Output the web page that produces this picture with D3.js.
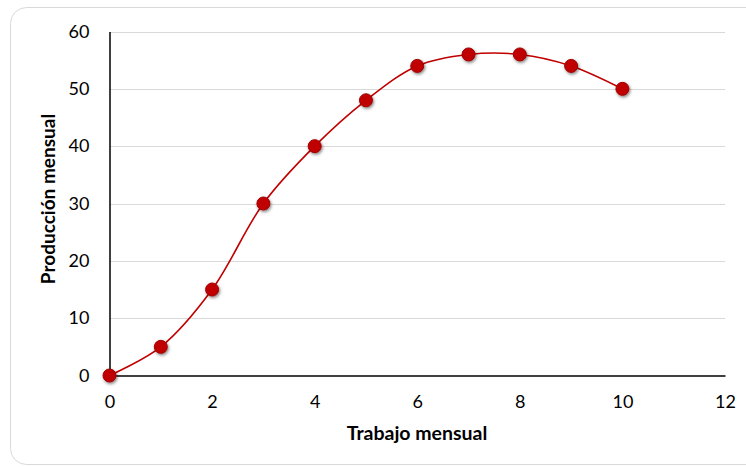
<!DOCTYPE html>
<html>
<head>
<meta charset="utf-8">
<script src="https://cdn.jsdelivr.net/npm/d3@7"></script>
<style>
  html, body { margin: 0; padding: 0; background: #fff; }
  svg { display: block; }
  text { font-family: Lato, "Open Sans", "Liberation Sans", sans-serif; fill: #000; }
</style>
</head>
<body>
<script>
// Labour input vs. monthly output
const trabajo = [0, 1, 2, 3, 4, 5, 6, 7, 8, 9, 10];
const produccion = [0, 5, 15, 30, 40, 48, 54, 56, 56, 54, 50];
const xTicks = [0, 2, 4, 6, 8, 10, 12];
const yTicks = [0, 10, 20, 30, 40, 50, 60];
const xTitle = "Trabajo mensual";
const yTitle = "Producción mensual";

(function () {
  const W = 746, H = 467;
  const svg = d3.select("body").append("svg").attr("width", W).attr("height", H);

  const defs = svg.append("defs");
  const f = defs.append("filter").attr("id", "shadow")
    .attr("x", "-60%").attr("y", "-60%").attr("width", "220%").attr("height", "220%");
  f.append("feDropShadow").attr("dx", 1).attr("dy", 1.5).attr("stdDeviation", 1.6)
    .attr("flood-color", "#000").attr("flood-opacity", 0.5);

  // card outline
  svg.append("rect").attr("x", 10.5).attr("y", 7.5).attr("width", 760).attr("height", 457)
    .attr("rx", 16).attr("fill", "#fff").attr("stroke", "#d9d9d9").attr("stroke-width", 1);

  const pLeft = 109.5, pRight = 725, pTop = 31.5, pBottom = 375.5;
  const x = d3.scaleLinear().domain([0, 12]).range([pLeft, pRight]);
  const y = d3.scaleLinear().domain([0, 60]).range([pBottom, pTop]);

  // horizontal gridlines
  svg.append("g").selectAll("line").data(yTicks.filter(d => d > 0)).join("line")
    .attr("x1", pLeft).attr("x2", pRight)
    .attr("y1", d => Math.round(y(d)) + 0.5).attr("y2", d => Math.round(y(d)) + 0.5)
    .attr("stroke", "#d9d9d9").attr("stroke-width", 1);

  // axes
  const xAxis = svg.append("g").attr("transform", `translate(0,${pBottom})`)
    .call(d3.axisBottom(x).tickValues(xTicks).tickSize(0).tickPadding(20));
  const yAxis = svg.append("g").attr("transform", `translate(${pLeft},0)`)
    .call(d3.axisLeft(y).tickValues(yTicks).tickSize(0).tickPadding(20));
  [xAxis, yAxis].forEach(a => {
    a.select(".domain").attr("stroke", "#000").attr("stroke-width", 1.5);
    a.selectAll("text").style("font-size", "18px").style("font-family", "Lato, 'Open Sans', sans-serif");
  });

  // axis titles
  svg.append("text").attr("x", 417).attr("y", 440).attr("text-anchor", "middle")
    .style("font-size", "19.5px").style("font-weight", "bold").text(xTitle);
  svg.append("text").attr("transform", "translate(55,199) rotate(-90)").attr("text-anchor", "middle")
    .style("font-size", "19px").style("font-weight", "bold").text(yTitle);

  // smoothed series line
  const pts = trabajo.map((t, i) => [t, produccion[i]]);
  const line = d3.line().x(d => x(d[0])).y(d => y(d[1])).curve(d3.curveCatmullRom.alpha(0.5));
  svg.append("path").datum(pts).attr("d", line)
    .attr("fill", "none").attr("stroke", "#c00000").attr("stroke-width", 1.6);

  // markers
  svg.append("g").selectAll("circle").data(pts).join("circle")
    .attr("cx", d => x(d[0])).attr("cy", d => y(d[1])).attr("r", 6.5)
    .attr("fill", "#c00000").attr("stroke", "#a00000").attr("stroke-width", 1)
    .attr("filter", "url(#shadow)");
})();
</script>
</body>
</html>
